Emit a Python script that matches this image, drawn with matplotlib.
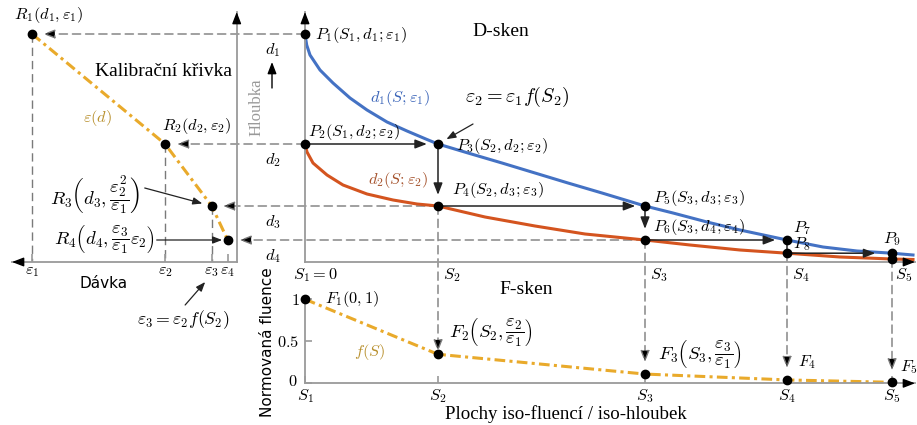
import matplotlib
matplotlib.use("Agg")
import matplotlib.pyplot as plt
from matplotlib.patches import ConnectionPatch

plt.rcParams["mathtext.fontset"] = "cm"
plt.rcParams["font.family"] = "Liberation Serif"

# iso-surfaces S_i, depths d_i, doses eps_i, normalized fluence f(S_i)
S = [0.0, 1.33, 3.40, 4.82, 5.87]
d = [2.28, 1.18, 0.56, 0.22, 0.088]
d_p9_low = 0.03
eps = [1.0, 0.35, 0.122, 0.044]
f = [1.0, 0.345, 0.11, 0.04, 0.012]

# depth curves
blue_S = [0, 0.017, 0.05, 0.15, 0.28, 0.45, 0.62, 0.82, 1.02, 1.22, 1.33, 1.63, 1.97,
          2.30, 2.63, 2.97, 3.40, 3.68, 4.02, 4.35, 4.82, 5.18, 5.52, 5.87, 6.08]
blue_d = [2.28, 2.17, 2.07, 1.92, 1.79, 1.64, 1.52, 1.40, 1.31, 1.225, 1.18, 1.09, 0.99,
          0.89, 0.79, 0.69, 0.56, 0.49, 0.40, 0.32, 0.22, 0.15, 0.11, 0.088, 0.07]
red_S = [0, 0.02, 0.08, 0.22, 0.38, 0.62, 0.88, 1.12, 1.33, 1.80, 2.30, 2.80, 3.40,
         3.85, 4.35, 4.82, 5.35, 5.87, 6.08]
red_d = [1.18, 1.10, 0.99, 0.87, 0.77, 0.68, 0.62, 0.58, 0.56, 0.45, 0.36, 0.28, 0.22,
         0.17, 0.12, 0.088, 0.05, 0.03, 0.025]

BLUE = "#4472c4"
RED = "#d4541f"
GOLD = "#e9aa2b"
GOLD_TXT = "#b8902e"
AXC = "#9a9a9a"
DASH = "#7a7a7a"
MS = 11.8   # math font size
FS = 13.5   # fraction labels
TS = 14     # plain text labels

W, H = 917, 425
fig = plt.figure(figsize=(W / 100, H / 100), dpi=100)


def axes_px(x0, x1, y0, y1):
    return fig.add_axes([x0 / W, 1 - y1 / H, (x1 - x0) / W, (y1 - y0) / H])


ax_d = axes_px(305, 915, 12, 262)
ax_d.set_xlim(0, 6.10)
ax_d.set_ylim(0, 2.50)
ax_c = axes_px(12, 236.7, 12, 262)
ax_c.set_xlim(1.098, 0)
ax_c.set_ylim(0, 2.50)
ax_f = axes_px(305, 915, 290, 383.3)
ax_f.set_xlim(0, 6.10)
ax_f.set_ylim(0, 1.11)

for ax in (ax_d, ax_c, ax_f):
    ax.set_facecolor("none")
    for sp in ax.spines.values():
        sp.set_visible(False)
        sp.set_color(AXC)
        sp.set_linewidth(1.3)
ax_d.spines["left"].set_visible(True)
ax_d.spines["bottom"].set_visible(True)
ax_c.spines["right"].set_visible(True)
ax_c.spines["bottom"].set_visible(True)
ax_f.spines["left"].set_visible(True)
ax_f.spines["left"].set_bounds(0, 1)
ax_f.spines["bottom"].set_visible(True)
ax_d.set_xticks([])
ax_d.set_yticks([])
ax_c.set_yticks([])
ax_c.set_xticks(eps)
ax_c.set_xticklabels([r"$\varepsilon_%d$" % (i + 1) for i in range(4)], fontsize=MS)
ax_c.tick_params(axis="x", direction="in", length=6, color=AXC, width=1.2, pad=1)
ax_f.set_xticks(S)
ax_f.set_xticklabels([r"$S_%d$" % (i + 1) for i in range(5)], fontsize=MS)
ax_f.tick_params(axis="x", direction="in", length=5, color=AXC, width=1.2, pad=2.5)
ax_f.set_yticks([0, 0.5, 1])
ax_f.set_yticklabels(["", r"$0.5$", r"$1$"], fontsize=MS)
ax_f.tick_params(axis="y", direction="in", length=5, color=AXC, width=1.2, pad=4)

HEAD = "-|>,head_length=0.7,head_width=0.27"


def axis_head(ax, xy, off):
    ax.annotate("", xy=xy, xycoords="axes fraction", xytext=off, textcoords="offset pixels",
                arrowprops=dict(arrowstyle=HEAD, color="k", lw=1, shrinkA=0, shrinkB=0),
                annotation_clip=False)


axis_head(ax_d, (0, 1), (0, -9))
axis_head(ax_d, (1, 0), (-9, 0))
axis_head(ax_c, (1, 1), (0, -9))
axis_head(ax_c, (0, 0), (9, 0))
axis_head(ax_f, (1, 0), (-9, 0))


def dashed(axA, xyA, axB, xyB, shrink):
    con = ConnectionPatch(xyA=xyA, coordsA="data", axesA=axA, xyB=xyB, coordsB="data",
                          axesB=axB, arrowstyle=HEAD, linestyle=(0, (6, 3.5)), ec=DASH,
                          fc="k", lw=1, shrinkA=0, shrinkB=shrink, mutation_scale=10,
                          zorder=-1)
    fig.add_artist(con)


# horizontal dashed arrows to the calibration curve
dashed(ax_d, (S[0], d[0]), ax_c, (eps[0], d[0]), 8)
dashed(ax_d, (S[0], d[1]), ax_c, (eps[1], d[1]), 8.5)
dashed(ax_d, (S[1], d[2]), ax_c, (eps[2], d[2]), 8)
dashed(ax_d, (S[2], d[3]), ax_c, (eps[3], d[3]), 8.5)
# vertical dashed arrows down to F-scan
dashed(ax_d, (S[1], d[2]), ax_f, (S[1], f[1]), 2)
dashed(ax_d, (S[2], d[3]), ax_f, (S[2], f[2]), 8.5)
dashed(ax_d, (S[3], d[4]), ax_f, (S[3], f[3]), 8.5)
dashed(ax_d, (S[4], d_p9_low), ax_f, (S[4], f[4]), 8.5)
# dashed drop lines on dose axis
for e, dd in zip(eps[:3], d[:3]):
    ax_c.plot([e, e], [dd, 0], color=DASH, lw=1, linestyle=(0, (6, 3.5)), zorder=1)

# D-scan curves
ax_d.plot(blue_S, blue_d, color=BLUE, lw=2.2, zorder=2, clip_on=False)
ax_d.plot(red_S, red_d, color=RED, lw=2.2, zorder=2, clip_on=False)


def solid(ax, a, b, shrink, style=HEAD):
    ax.annotate("", xy=b, xytext=a,
                arrowprops=dict(arrowstyle=style, color="#222222", lw=1.1, shrinkA=0,
                                shrinkB=shrink, mutation_scale=10))


P = [(S[0], d[0]), (S[0], d[1]), (S[1], d[1]), (S[1], d[2]), (S[2], d[2]),
     (S[2], d[3]), (S[3], d[3]), (S[3], d[4]), (S[4], d[4])]
solid(ax_d, P[1], P[2], 8)
solid(ax_d, P[2], P[3], 8)
solid(ax_d, P[3], P[4], 7)
solid(ax_d, P[4], P[5], 8)
solid(ax_d, P[5], P[6], 8.5)
solid(ax_d, P[6], P[7], 0, "-")
solid(ax_d, P[7], P[8], 12)

ax_d.plot([p[0] for p in P], [p[1] for p in P], "o", color="k", ms=6, zorder=5, clip_on=False)
ax_d.plot([S[4]], [d_p9_low], "o", color="k", ms=6, zorder=5, clip_on=False)

# calibration curve and F-scan
dashdot = (0, (3.5, 1.4, 1, 1.4))
ax_c.plot(eps, d[:4], color=GOLD, lw=2.2, linestyle=dashdot, zorder=2)
ax_c.plot(eps, d[:4], "o", color="k", ms=6, zorder=5, clip_on=False)
ax_f.plot(S, f, color=GOLD, lw=2.2, linestyle=dashdot, zorder=2, clip_on=False)
ax_f.plot(S, f, "o", color="k", ms=6, zorder=5, clip_on=False)


def lab(ax, xy, s, dx, dy, ha="left", va="center", size=MS, **kw):
    ax.annotate(s, xy, xytext=(dx, dy), textcoords="offset pixels", ha=ha, va=va,
                fontsize=size, annotation_clip=False, **kw)


lab(ax_f, (0, 0), r"$0$", -8, 1, ha="right")

# D-scan labels
p_txt = [r"$P_1(S_1, d_1; \varepsilon_1)$", r"$P_2(S_1, d_2; \varepsilon_2)$",
         r"$P_3(S_2, d_2; \varepsilon_2)$", r"$P_4(S_2, d_3; \varepsilon_3)$",
         r"$P_5(S_3, d_3; \varepsilon_3)$", r"$P_6(S_3, d_4; \varepsilon_4)$",
         r"$P_7$", r"$P_8$", r"$P_9$"]
p_off = [(10, -1), (3, 12), (18, -2), (14, 16), (8, 8), (8, 13), (6, 12), (6, 9), (0, 14)]
for i, (p, t, o) in enumerate(zip(P, p_txt, p_off)):
    lab(ax_d, p, t, o[0], o[1], ha="center" if i == 8 else "left")

for i in range(4):
    lab(ax_d, (0, d[i]), r"$d_%d$" % (i + 1), -32, -16, ha="center")
lab(ax_d, (S[0], 0), r"$S_1 = 0$", -12, -13)
for i in range(1, 5):
    lab(ax_d, (S[i], 0), r"$S_%d$" % (i + 1), 5 if i < 4 else 3, -13)

lab(ax_d, P[2], r"$\varepsilon_2 = \varepsilon_1 f(S_2)$", 27, 47, size=14.5)
ax_d.annotate("", xy=P[2], xytext=(35, 20), textcoords="offset pixels",
              arrowprops=dict(arrowstyle=HEAD, color="#222222", lw=0.9, shrinkA=0, shrinkB=7,
                              mutation_scale=8))
ax_d.text(0.65, 1.64, r"$d_1(S; \varepsilon_1)$", color="#3a64b8", fontsize=MS, va="center")
ax_d.text(0.63, 0.82, r"$d_2(S; \varepsilon_2)$", color="#a5522c", fontsize=MS, va="center")
ax_d.text(1.67, 2.30, "D-sken", fontsize=TS, va="center")
ax_d.text(-0.48, 1.55, "Hloubka", color="#999999", fontsize=12, rotation=90,
          ha="center", va="center")
ax_d.annotate("", xy=(-0.33, 2.00), xytext=(-0.33, 1.74),
              arrowprops=dict(arrowstyle=HEAD, color="k", lw=1, shrinkA=0, shrinkB=0),
              annotation_clip=False)

# calibration labels
R = list(zip(eps, d[:4]))
lab(ax_c, R[0], r"$R_1(d_1, \varepsilon_1)$", 17, 19, ha="center")
lab(ax_c, R[1], r"$R_2(d_2, \varepsilon_2)$", 32, 18, ha="center")
lab(ax_c, R[2], r"$R_3\left(d_3, \dfrac{\varepsilon_2^2}{\varepsilon_1}\right)$", -72, 11,
    ha="right", size=FS)
lab(ax_c, R[3], r"$R_4\left(d_4, \dfrac{\varepsilon_3}{\varepsilon_1}\varepsilon_2\right)$",
    -73, 0, ha="right", size=FS)
ax_c.annotate("", xy=R[2], xytext=(-67, 18), textcoords="offset pixels",
              arrowprops=dict(arrowstyle=HEAD, color="#222222", lw=0.9, shrinkA=0, shrinkB=7,
                              mutation_scale=8))
ax_c.annotate("", xy=R[3], xytext=(-71, 0), textcoords="offset pixels",
              arrowprops=dict(arrowstyle=HEAD, color="#222222", lw=0.9, shrinkA=0, shrinkB=4,
                              mutation_scale=8))
ax_c.text(0.69, 1.90, "Kalibrační křivka", fontsize=TS, va="center")
ax_c.text(0.678, 1.44, r"$\varepsilon(d)$", color=GOLD_TXT, fontsize=MS, ha="center",
          va="center")
ax_c.text(0.65, -0.21, "Dávka", family="DejaVu Sans", fontsize=11, ha="center", va="center")
ax_c.text(0.26, -0.58, r"$\varepsilon_3 = \varepsilon_2 f(S_2)$", fontsize=12.8, ha="center",
          va="center")
ax_c.annotate("", xy=(0.154, -0.20), xytext=(0.252, -0.43),
              arrowprops=dict(arrowstyle=HEAD, color="#222222", lw=0.9, shrinkA=0, shrinkB=0,
                              mutation_scale=8), annotation_clip=False)

# F-scan labels
Fp = list(zip(S, f))
f_txt = [r"$F_1(0, 1)$", r"$F_2\left(S_2, \dfrac{\varepsilon_2}{\varepsilon_1}\right)$",
         r"$F_3\left(S_3, \dfrac{\varepsilon_3}{\varepsilon_1}\right)$", r"$F_4$", r"$F_5$"]
f_off = [(20, 0), (11, 21), (13, 19), (11, 18), (8, 15)]
f_size = [MS, FS, FS, MS, MS]
for p, t, o, sz in zip(Fp, f_txt, f_off, f_size):
    lab(ax_f, p, t, o[0], o[1], size=sz)
ax_f.text(0.65, 0.37, r"$f(S)$", color=GOLD_TXT, fontsize=MS, ha="center", va="center")
ax_f.text(2.21, 1.11, "F-sken", fontsize=TS, ha="center", va="center")
ax_f.text(2.61, -0.37, "Plochy iso-fluencí / iso-hloubek", fontsize=13.6, ha="center",
          va="center")
ax_f.text(-0.37, 0.49, "Normovaná fluence", family="DejaVu Sans", fontsize=11,
          rotation=90, ha="center", va="center")

fig.savefig("out.png", dpi=100)
